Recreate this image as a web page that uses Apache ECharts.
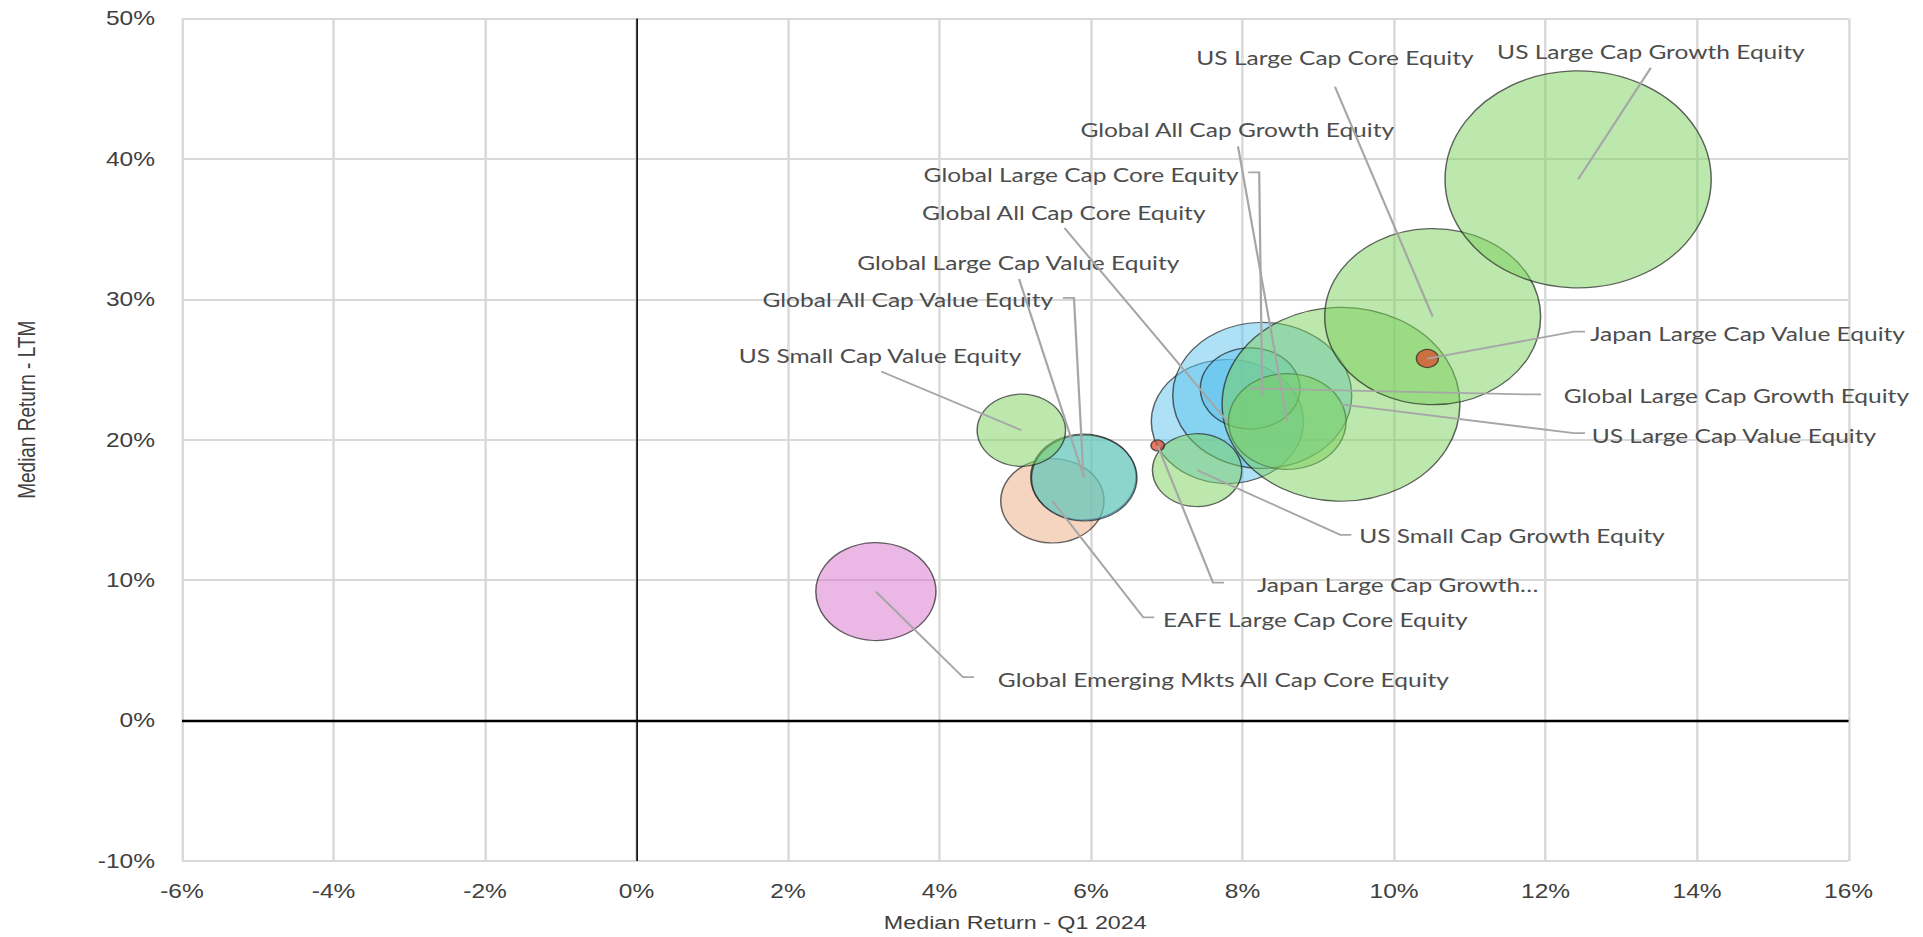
<!DOCTYPE html>
<html>
<head>
    <meta charset="utf-8">
    <title>Median Return - Q1 2024 vs LTM</title>
    <style>
        html, body { margin: 0; padding: 0; background: #fff; overflow: hidden; }
        /* the original chart was widened sideways (circles came out as ellipses),
           so draw it at 1568px and stretch it to the 1923px window */
        #main { width: 1568px; height: 937px; transform: scaleX(1.2264); transform-origin: 0 0; }
    </style>
</head>
<body>
<div id="main"></div>
<script src="https://cdn.jsdelivr.net/npm/echarts@6/dist/echarts.min.js"></script>
<script type="text/javascript">
    // peer groups, bottom to top drawing order
    var names = [
        'Global Emerging Mkts All Cap Core Equity',
        'EAFE Large Cap Core Equity',
        'Global All Cap Value Equity',
        'Global Large Cap Value Equity',
        'US Small Cap Value Equity',
        'Global All Cap Core Equity',
        'Global Large Cap Core Equity',
        'Global Large Cap Growth Equity',
        'Global All Cap Growth Equity',
        'US Small Cap Growth Equity',
        'US Large Cap Value Equity',
        'US Large Cap Core Equity',
        'US Large Cap Growth Equity',
        'Japan Large Cap Growth\u2026',
        'Japan Large Cap Value Equity'
    ];
    // median return Q1 2024 (%)
    var q1Return = [3.16, 5.49, 5.90, 5.91, 5.08, 7.80, 8.26, 8.10, 8.59, 7.40, 9.30, 10.51, 12.43, 6.88, 10.44];
    // median return last twelve months (%)
    var ltmReturn = [9.19, 15.65, 17.35, 17.28, 20.68, 21.30, 23.16, 23.66, 21.30, 17.84, 22.53, 28.77, 38.55, 19.60, 25.79];
    // bubble size (area)
    var bubbleSize = [96, 71, 74, 74, 52, 154, 213, 66, 92, 53, 376, 310, 471, 1.2, 3.2];

    var green = 'rgba(122,207,92,0.63)';
    var blue = 'rgba(92,195,237,0.62)';
    var bubbleColor = [
        'rgba(213,104,200,0.6)', 'rgba(235,165,124,0.6)', green, blue, green,
        blue, blue, blue, green, green, green, green, green,
        'rgba(220,70,40,0.9)', 'rgba(220,70,40,0.9)'
    ];

    // label text anchor, alignment and leader bend point (axis units)
    var labelPos = [
        [4.77, 2.95], [6.95, 7.21], [5.50, 29.97], [5.04, 32.60], [3.215, 26.00],
        [5.64, 36.21], [7.95, 38.91], [12.24, 23.16], [7.93, 42.10], [9.54, 13.16],
        [12.61, 20.33], [9.22, 47.21], [13.39, 47.63], [8.19, 9.69], [12.59, 27.56]
    ];
    var labelAlign = ['left', 'left', 'right', 'center', 'center', 'center', 'right', 'left',
        'center', 'left', 'left', 'center', 'center', 'left', 'left'];
    var leaderBend = [
        [4.31, 3.09], [6.69, 7.35], [5.775, 30.11], [5.05, 31.46], [3.23, 24.86],
        [5.65, 35.08], [8.22, 39.05], [11.795, 23.23], [7.94, 40.90], [9.29, 13.23],
        [12.375, 20.47], [9.22, 45.15], [13.39, 46.50], [7.61, 9.83], [12.375, 27.70]
    ];

    var myChart = echarts.init(document.getElementById('main'), null, { renderer: 'svg' });

    function renderLabel(params, api) {
        var i = params.dataIndex;
        var c = api.coord([api.value(0), api.value(1)]);
        var b = api.coord([api.value(2), api.value(3)]);
        var t = api.coord([api.value(4), api.value(5)]);
        var align = labelAlign[i];
        var pts = [c, b];
        if (align == 'left') pts.push([b[0] + 9, b[1]]);
        if (align == 'right') pts.push([b[0] - 9, b[1]]);
        return {
            type: 'group',
            children: [{
                type: 'polyline',
                shape: { points: pts },
                style: { stroke: '#a6a6a6', lineWidth: 1.8, fill: null }
            }, {
                type: 'text',
                x: t[0],
                y: t[1],
                style: {
                    text: names[i],
                    fill: '#4d4d4d',
                    font: '20px Lato',
                    align: align,
                    verticalAlign: 'middle'
                }
            }]
        };
    }

    var tickFont = { color: '#404040', fontSize: 20, fontFamily: 'Liberation Sans' };

    myChart.setOption({
        animation: false,
        grid: { left: 148.4, right: 60.7, top: 18.6, bottom: 72.4, containLabel: false },
        xAxis: {
            type: 'value',
            min: -6, max: 16, interval: 2,
            name: 'Median Return - Q1 2024',
            nameLocation: 'middle',
            nameGap: 52,
            nameTextStyle: { color: '#404040', fontSize: 19, fontFamily: 'Liberation Sans' },
            axisLine: { show: false, onZero: false },
            axisTick: { show: false },
            axisLabel: Object.assign({ formatter: '{value}%', margin: 20 }, tickFont),
            splitLine: { show: true, lineStyle: { color: '#d9d9d9', width: 2 } }
        },
        yAxis: {
            type: 'value',
            min: -10, max: 50, interval: 10,
            name: 'Median Return - LTM',
            nameLocation: 'middle',
            nameGap: 117,
            nameRotate: 90,
            nameTextStyle: { color: '#404040', fontSize: 19, fontFamily: 'Liberation Sans', padding: [0, 0, 0, 60] },
            axisLine: { show: false, onZero: false },
            axisTick: { show: false },
            axisLabel: Object.assign({ formatter: '{value}%', margin: 22 }, tickFont),
            splitLine: { show: true, lineStyle: { color: '#d9d9d9', width: 2 } }
        },
        series: [{
            type: 'scatter',
            symbol: 'circle',
            symbolSize: function (val) {
                return Math.sqrt(val[2]) * 10;
            },
            itemStyle: { borderColor: 'rgba(30,30,30,0.85)', borderWidth: 1.2 },
            emphasis: { disabled: true },
            data: names.map(function (n, i) {
                return {
                    name: n,
                    value: [q1Return[i], ltmReturn[i], bubbleSize[i]],
                    itemStyle: { color: bubbleColor[i] }
                };
            }),
            markLine: {
                silent: true,
                symbol: 'none',
                label: { show: false },
                lineStyle: { color: '#000', type: 'solid' },
                data: [
                    { xAxis: 0, lineStyle: { color: '#000', width: 1.3, type: 'solid' } },
                    { yAxis: 0, lineStyle: { color: '#000', width: 2.4, type: 'solid' } }
                ]
            }
        }, {
            type: 'custom',
            z: 5,
            silent: true,
            clip: false,
            renderItem: renderLabel,
            encode: { x: [0, 2, 4], y: [1, 3, 5] },
            data: names.map(function (n, i) {
                return [q1Return[i], ltmReturn[i], leaderBend[i][0], leaderBend[i][1], labelPos[i][0], labelPos[i][1]];
            })
        }]
    });
</script>
</body>
</html>
